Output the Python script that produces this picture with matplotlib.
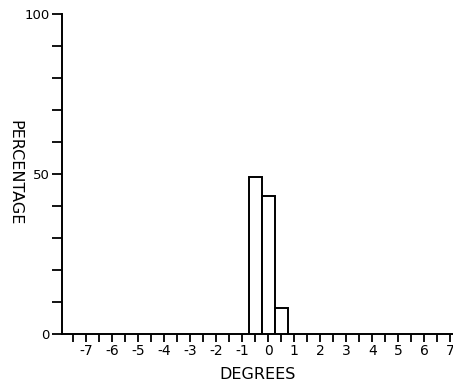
import matplotlib
matplotlib.use("Agg")
import matplotlib.pyplot as plt
import numpy as np

# histogram of angular error (degrees) vs percentage
bin_centers = [-0.5, 0.0, 0.5]
percentages = [49, 43, 8]
bin_width = 0.5

x_major = list(range(-7, 8))
x_labels = [str(v) for v in x_major]
y_major = [0, 50, 100]

plt.rcParams["font.family"] = "DejaVu Sans"
plt.rcParams["axes.unicode_minus"] = False

fig = plt.figure(figsize=(4.53, 3.87), dpi=100)
ax = fig.add_axes([62 / 453, 53 / 387, 391 / 453, 320 / 387])

ax.bar(bin_centers, percentages, width=bin_width, color="white",
       edgecolor="black", linewidth=1.4, zorder=3)

ax.set_xlim(-7.93, 7.1)
ax.set_ylim(0, 100)

ax.spines["top"].set_visible(False)
ax.spines["right"].set_visible(False)
ax.spines["left"].set_linewidth(1.4)
ax.spines["bottom"].set_linewidth(1.4)

ax.set_xticks(x_major)
ax.set_xticklabels(x_labels)
ax.set_xticks(np.arange(-7.5, 7.5, 1.0), minor=True)
ax.set_yticks(y_major)
ax.set_yticklabels([str(v) for v in y_major])
ax.set_yticks(np.arange(10, 100, 10), minor=True)

ax.tick_params(axis="x", which="both", direction="out", length=6, width=1.3,
               labelsize=10, pad=1)
ax.tick_params(axis="y", which="both", direction="out", length=7, width=1.3,
               labelsize=9.5, pad=2)

ax.set_xlabel("DEGREES", fontsize=11.5, labelpad=7)
fig.text(15 / 453, 1 - 173 / 387, "PERCENTAGE", fontsize=11.5, rotation=270,
         ha="center", va="center")

fig.savefig("out.png", dpi=100)
